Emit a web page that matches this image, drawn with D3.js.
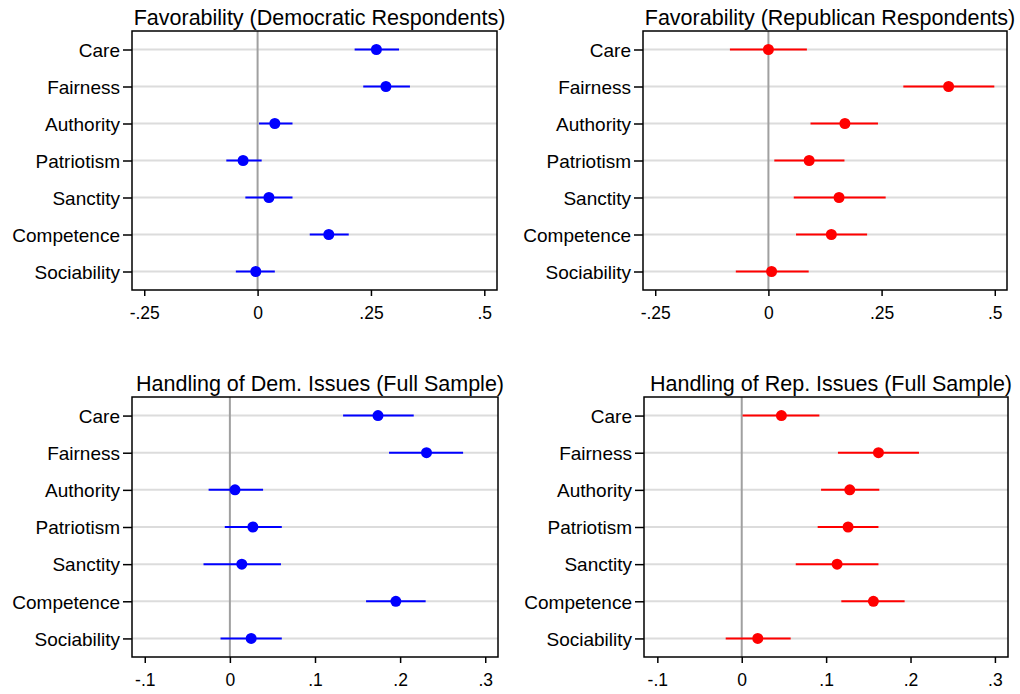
<!DOCTYPE html>
<html><head><meta charset="utf-8">
<script src="https://cdn.jsdelivr.net/npm/d3@7"></script>
<style>
body{margin:0;background:#fff;}
svg{display:block;font-family:"Liberation Sans",Arial,sans-serif;}
</style></head>
<body>
<svg id="chart" width="1020" height="694"></svg>
<script>
const categories = ["Care","Fairness","Authority","Patriotism","Sanctity","Competence","Sociability"];

const titles = ["Favorability (Democratic Respondents)","Favorability (Republican Respondents)",
  "Handling of Dem. Issues (Full Sample)","Handling of Rep. Issues (Full Sample)"];

const demFavEst = [0.262, 0.283, 0.038, -0.032, 0.025, 0.157, -0.004];
const demFavLo  = [0.214, 0.233, 0.003, -0.069, -0.027, 0.115, -0.048];
const demFavHi  = [0.312, 0.336, 0.077, 0.009, 0.077, 0.201, 0.038];

const repFavEst = [0.000, 0.398, 0.169, 0.090, 0.156, 0.139, 0.007];
const repFavLo  = [-0.085, 0.298, 0.093, 0.013, 0.056, 0.061, -0.072];
const repFavHi  = [0.085, 0.499, 0.242, 0.168, 0.259, 0.218, 0.089];

const demIssEst = [0.174, 0.231, 0.006, 0.027, 0.014, 0.195, 0.025];
const demIssLo  = [0.133, 0.187, -0.025, -0.006, -0.031, 0.160, -0.011];
const demIssHi  = [0.216, 0.274, 0.039, 0.061, 0.060, 0.230, 0.061];

const repIssEst = [0.047, 0.162, 0.128, 0.126, 0.113, 0.156, 0.019];
const repIssLo  = [0.001, 0.114, 0.094, 0.090, 0.064, 0.118, -0.019];
const repIssHi  = [0.092, 0.210, 0.163, 0.162, 0.162, 0.193, 0.058];

const favTicks = [-0.25, 0, 0.25, 0.5];
const favTickLabels = ["-.25", "0", ".25", ".5"];
const issTicks = [-0.1, 0, 0.1, 0.2, 0.3];
const issTickLabels = ["-.1", "0", ".1", ".2", ".3"];

const svg = d3.select("#chart");

const panels = [
  {title: titles[0], est: demFavEst, lo: demFavLo, hi: demFavHi, color: "#0000ff",
   box: [132, 31, 497, 290], dom: [-0.277, 0.528], ticks: favTicks, labels: favTickLabels},
  {title: titles[1], est: repFavEst, lo: repFavLo, hi: repFavHi, color: "#ff0000",
   box: [643, 31, 1007, 290], dom: [-0.277, 0.527], ticks: favTicks, labels: favTickLabels},
  {title: titles[2], est: demIssEst, lo: demIssLo, hi: demIssHi, color: "#0000ff",
   box: [132, 397, 498, 657], dom: [-0.115, 0.315], ticks: issTicks, labels: issTickLabels},
  {title: titles[3], est: repIssEst, lo: repIssLo, hi: repIssHi, color: "#ff0000",
   box: [644, 397, 1008, 657], dom: [-0.1158, 0.3155], ticks: issTicks, labels: issTickLabels}
];

panels.forEach(p => {
  const [x0, y0, x1, y1] = p.box;
  const x = d3.scaleLinear().domain(p.dom).range([x0, x1]);
  const y = d3.scaleLinear().domain([0.5, 7.5]).range([y0, y1]);
  const g = svg.append("g");

  g.selectAll("line.grid").data(categories).enter().append("line")
    .attr("x1", x0).attr("x2", x1)
    .attr("y1", (d, i) => y(i + 1)).attr("y2", (d, i) => y(i + 1))
    .attr("stroke", "#dcdcdc").attr("stroke-width", 2);

  g.append("line").attr("x1", x(0)).attr("x2", x(0)).attr("y1", y0).attr("y2", y1)
    .attr("stroke", "#a0a0a0").attr("stroke-width", 2);

  g.selectAll("line.ci").data(categories).enter().append("line")
    .attr("x1", (d, i) => x(p.lo[i])).attr("x2", (d, i) => x(p.hi[i]))
    .attr("y1", (d, i) => y(i + 1)).attr("y2", (d, i) => y(i + 1))
    .attr("stroke", p.color).attr("stroke-width", 2);

  g.selectAll("circle").data(categories).enter().append("circle")
    .attr("cx", (d, i) => x(p.est[i])).attr("cy", (d, i) => y(i + 1))
    .attr("r", 5.5).attr("fill", p.color);

  g.append("rect").attr("x", x0).attr("y", y0).attr("width", x1 - x0).attr("height", y1 - y0)
    .attr("fill", "none").attr("stroke", "#000").attr("stroke-width", 1.5);

  const xAxis = d3.axisBottom(x).tickValues(p.ticks)
    .tickFormat((d, i) => p.labels[i]).tickSize(6).tickPadding(11).tickSizeOuter(0);
  const xa = g.append("g").attr("transform", `translate(0,${y1})`).call(xAxis);
  xa.select(".domain").remove();
  xa.selectAll(".tick line").attr("stroke", "#000").attr("stroke-width", 1.5);
  xa.selectAll(".tick text").attr("font-size", 17.5).attr("fill", "#000")
    .attr("font-family", "Liberation Sans, Arial, sans-serif");

  const yAxis = d3.axisLeft(y).tickValues(d3.range(1, 8))
    .tickFormat(d => categories[d - 1]).tickSize(9).tickPadding(3).tickSizeOuter(0);
  const ya = g.append("g").attr("transform", `translate(${x0},0)`).call(yAxis);
  ya.select(".domain").remove();
  ya.selectAll(".tick line").attr("stroke", "#000").attr("stroke-width", 1.5);
  ya.selectAll(".tick text").attr("font-size", 19).attr("fill", "#000").attr("dy", "0.36em")
    .attr("font-family", "Liberation Sans, Arial, sans-serif");

  g.append("text").attr("x", (x0 + x1) / 2 + 5).attr("y", y0 - 6)
    .attr("text-anchor", "middle").attr("font-size", 21.5).attr("fill", "#000")
    .text(p.title);
});
</script>
</body></html>
